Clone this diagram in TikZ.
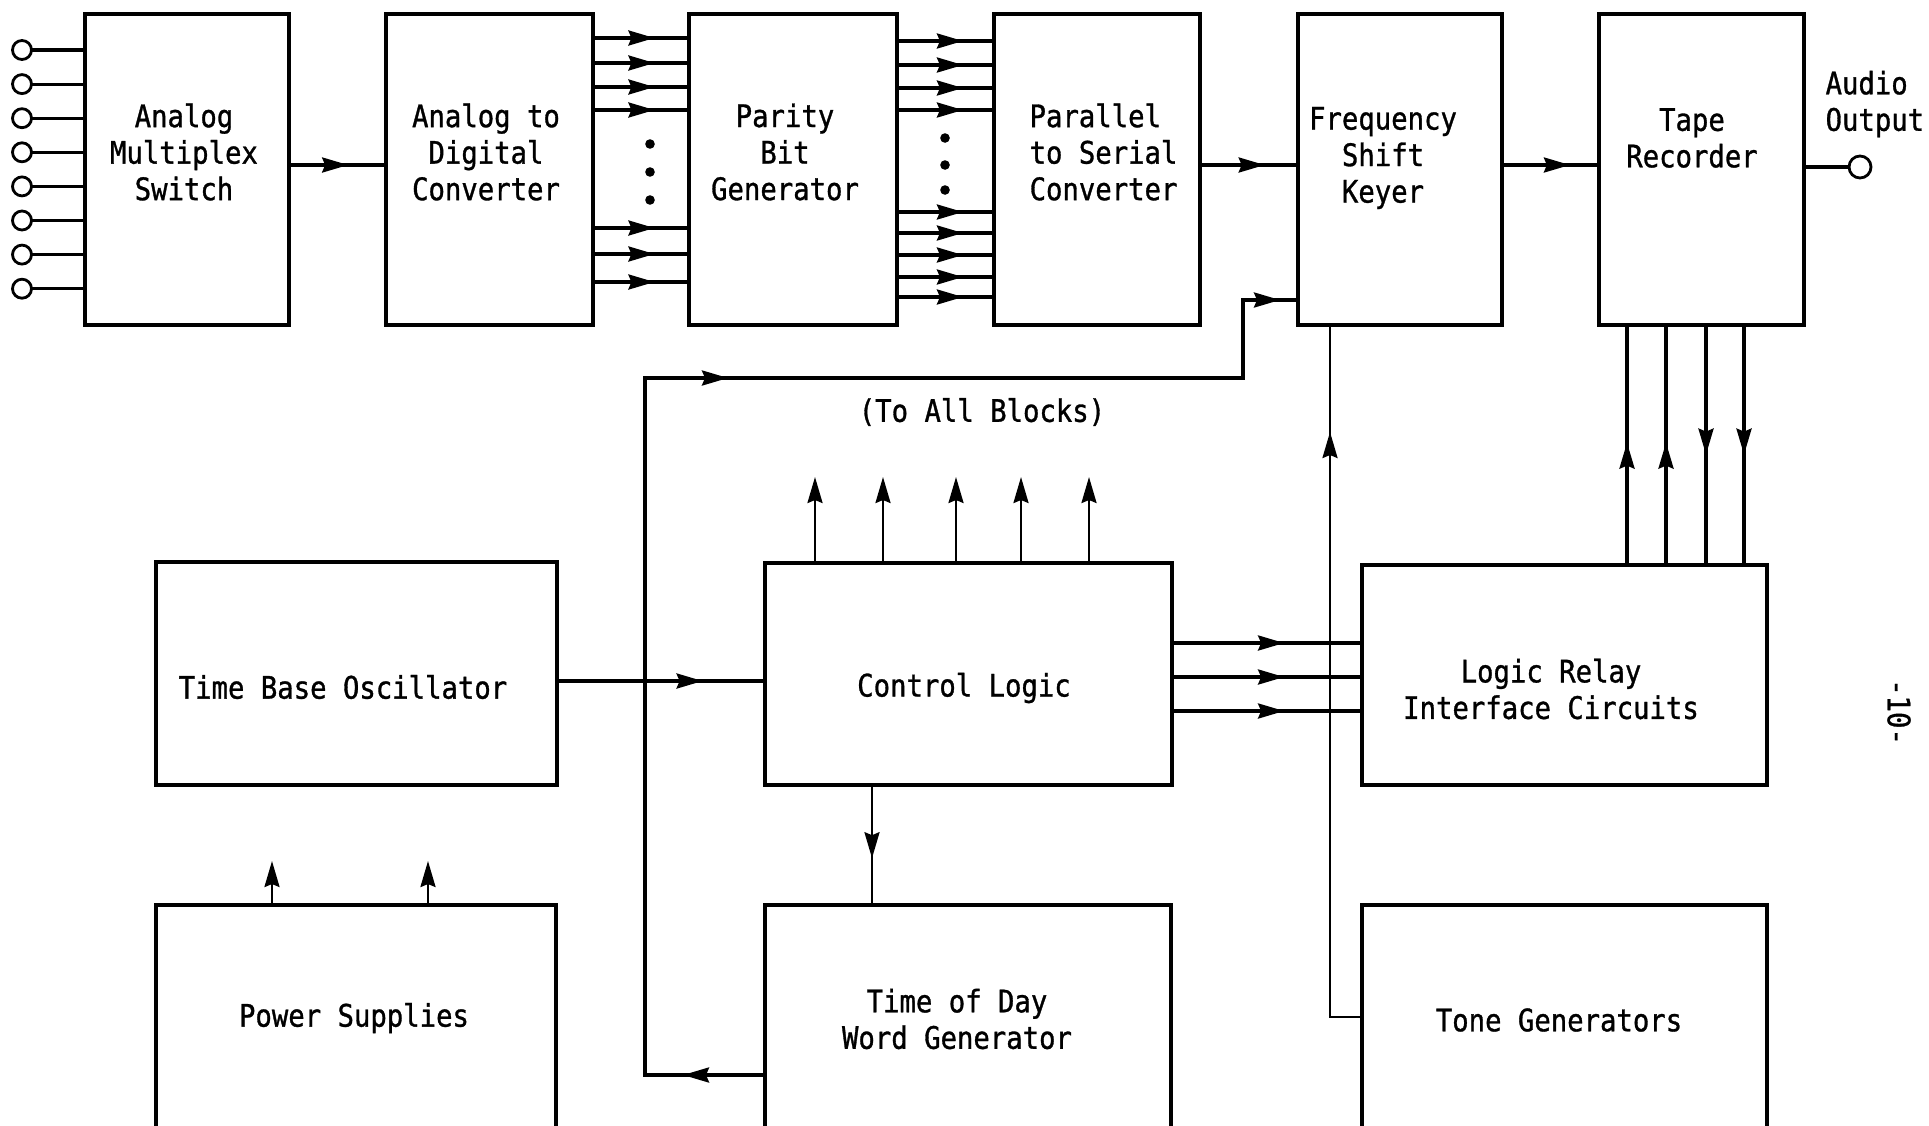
\documentclass[tikz,border=0pt]{standalone}
\usepackage{fontspec}
\setmainfont{DejaVu Sans Mono}[FakeStretch=0.88,FakeBold=1]
\usetikzlibrary{arrows.meta,decorations.markings}

\newcommand{\lblfont}{\fontsize{31}{36.5}\selectfont}

\tikzset{every picture/.style={line width=3.2pt}}
\tikzset{
  blk/.style={draw, rectangle, inner sep=0pt, outer sep=0pt, line width=3.4pt},
  lbl/.style={font=\lblfont, align=center, inner sep=0pt},
  pin/.style={draw, circle, inner sep=0pt, outer sep=0pt, line width=2.8pt},
  arr/.style={postaction={decorate, decoration={markings, mark=at position #1 with {\arrow{>}}}}}
}

\begin{document}
\begin{tikzpicture}[x=1pt,y=-1pt,>={Stealth[length=26pt,width=15pt,inset=3pt]}]
	\useasboundingbox (0,0) rectangle (1929,1125);

	% Blocks, top row
	\node[blk, minimum width=204pt, minimum height=311pt] (ams) at (187,169.5) {};
	\node[blk, minimum width=207pt, minimum height=311pt] (adc) at (489.5,169.5) {};
	\node[blk, minimum width=208pt, minimum height=311pt] (par) at (793,169.5) {};
	\node[blk, minimum width=206pt, minimum height=311pt] (psc) at (1097,169.5) {};
	\node[blk, minimum width=204pt, minimum height=311pt] (fsk) at (1400,169.5) {};
	\node[blk, minimum width=205pt, minimum height=311pt] (tape) at (1701.5,169.5) {};
	% Blocks, middle row
	\node[blk, minimum width=401pt, minimum height=223pt] (tbo) at (356.5,673.5) {};
	\node[blk, minimum width=407pt, minimum height=222pt] (cl) at (968.5,674) {};
	\node[blk, minimum width=405pt, minimum height=220pt] (lr) at (1564.5,675) {};
	% Blocks, bottom row
	\node[blk, minimum width=400pt, minimum height=235pt] (pwr) at (356,1022.5) {};
	\node[blk, minimum width=406pt, minimum height=235pt] (tod) at (968,1022.5) {};
	\node[blk, minimum width=405pt, minimum height=235pt] (tg) at (1564.5,1022.5) {};

	% Text Node
	\node[lbl] (ams-txt) at (184,152) {Analog\\Multiplex\\Switch};
	\node[lbl] (adc-txt) at (486,152) {Analog to\\Digital\\Converter};
	\node[lbl] (par-txt) at (785,152) {Parity\\Bit\\Generator};
	\node[lbl, anchor=west, align=left] (psc-txt) at (1028,152) {Parallel\\to Serial\\Converter};
	\node[lbl] (fsk-txt) at (1383,158) {Frequency\\Shift\\Keyer};
	\node[lbl] (tape-txt) at (1692,138) {Tape\\Recorder};
	\node[lbl] (tbo-txt) at (343,687) {Time Base Oscillator};
	\node[lbl] (cl-txt) at (964,688) {Control Logic};
	\node[lbl] (lr-txt) at (1551,689) {Logic Relay\\Interface Circuits};
	\node[lbl] (pwr-txt) at (354,1018) {Power Supplies};
	\node[lbl] (tod-txt) at (957,1019) {Time of Day\\Word Generator};
	\node[lbl] (tg-txt) at (1559,1020) {Tone Generators};
	\node[lbl] (bus-txt) at (982,412) {(To All Blocks)};
	\node[lbl, anchor=west, align=left] (aout-txt) at (1824,104) {Audio\\Output};
	\node[lbl, rotate=-90] (pgno) at (1899,712) {-10-};

	% Analog inputs
	\foreach \i [evaluate=\i as \y using {50+34.1*(\i-1)}] in {1,...,8} {
		\node[pin, minimum size=19pt] (in\i) at (22,\y) {};
		\draw (in\i) -- (ams.west |- in\i);
	}
	% Audio output
	\node[pin, minimum size=22pt] (aout) at (1860,167) {};
	\draw (tape.east |- aout) -- (aout);

	%Straight Lines
	\draw[arr=0.61] (ams.east |- 0,165) -- (adc.west |- 0,165);
	\foreach \y in {38,63,87,110,228,254,282}
		\draw[arr=0.64] (adc.east |- 0,\y) -- (par.west |- 0,\y);
	\foreach \y in {144,172,200}
		\fill (650,\y) circle (4.8pt);
	\foreach \y in {41,65,88,110,212,233,255,277,297}
		\draw[arr=0.68] (par.east |- 0,\y) -- (psc.west |- 0,\y);
	\foreach \y in {138,165,190}
		\fill (945,\y) circle (4.8pt);
	\draw[arr=0.66] (psc.east |- 0,165) -- (fsk.west |- 0,165);
	\draw[arr=0.70] (fsk.east |- 0,165) -- (tape.west |- 0,165);

	% Bus to all blocks
	\coordinate (busL) at (645,378);
	\coordinate (busR) at (1243,378);
	\coordinate (busT) at (1243,300);
	\draw[arr=82pt, arr=900pt, arr=-18pt] (tod.west |- 0,1075) -- (busL |- 0,1075) -- (busL) -- (busR) -- (busT) -- (fsk.west |- busT);

	%Straight Lines
	\draw[arr=0.70] (tbo.east |- 0,681) -- (cl.west |- 0,681);
	\foreach \x in {815,883,956,1021,1089}
		\draw[->, line width=2.5pt] (cl.north -| \x,0) -- ++(0,-86);
	\draw[arr=0.61, line width=2.5pt] (cl.south -| 872,0) -- (tod.north -| 872,0);
	\foreach \x in {272,428}
		\draw[->, line width=2.5pt] (pwr.north -| \x,0) -- ++(0,-44);
	\foreach \y in {643,677,711}
		\draw[arr=0.59] (cl.east |- 0,\y) -- (lr.west |- 0,\y);
	\draw[arr=-107pt, line width=2.5pt] (tg.west |- 0,1017) -| (fsk.south -| 1330,0);
	\foreach \x in {1627,1666}
		\draw[arr=0.51] (lr.north -| \x,0) -- (tape.south -| \x,0);
	\foreach \x in {1706,1744}
		\draw[arr=0.54] (tape.south -| \x,0) -- (lr.north -| \x,0);

\end{tikzpicture}
\end{document}
